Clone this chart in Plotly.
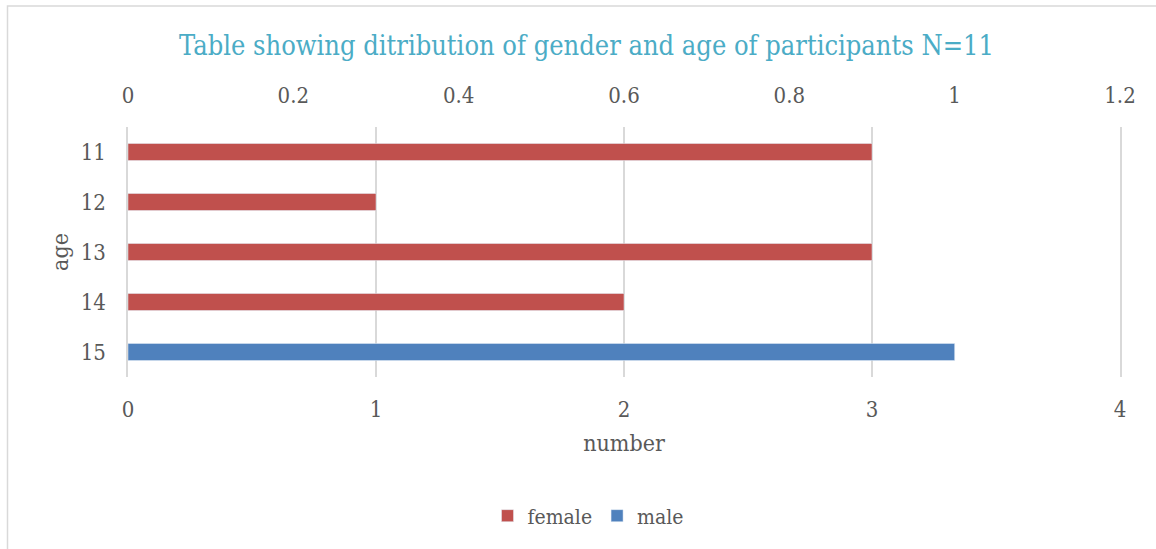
import plotly.graph_objects as go

ages = ["11", "12", "13", "14", "15"]
female = [3, 1, 3, 2, None]
male = [None, None, None, None, 1]
bottom_ticks = [0, 1, 2, 3, 4]
top_ticks = [0, 0.2, 0.4, 0.6, 0.8, 1, 1.2]
top_labels = ["0", "0.2", "0.4", "0.6", "0.8", "1", "1.2"]

FONT = "DejaVu Serif Condensed, Liberation Serif, serif"
GREY = "#595959"

W, H = 1156, 549
L, R, T, B = 128, 1120, 127, 377

fig = go.Figure()
fig.add_trace(go.Bar(y=ages, x=female, orientation="h", name="female",
                     marker_color="#c0504d", width=0.34, xaxis="x", yaxis="y"))
fig.add_trace(go.Bar(y=ages, x=male, orientation="h", name="male",
                     marker_color="#4f81bd", width=0.34, xaxis="x2", yaxis="y"))

fig.update_layout(
    width=W, height=H,
    margin=dict(l=L, r=W - R, t=T, b=H - B),
    paper_bgcolor="white", plot_bgcolor="white",
    barmode="overlay",
    font=dict(family=FONT, color=GREY, size=22),
    title=dict(text="Table showing ditribution of gender and age of participants N=11",
               font=dict(family=FONT, size=27, color="#4bacc6"),
               x=(178 + 995) / 2 / W, xanchor="center", xref="container",
               y=1 - 46 / H, yanchor="middle", yref="container"),
    xaxis=dict(range=[0, 4], tickvals=bottom_ticks, showgrid=True,
               gridcolor="#d9d9d9", gridwidth=1.5, zeroline=False,
               ticks="outside", ticklen=13, tickcolor="rgba(0,0,0,0)",
               tickfont=dict(size=22, color=GREY), showline=False,
               title=dict(text="number", font=dict(size=23, color=GREY), standoff=13)),
    xaxis2=dict(range=[0, 1.2], tickvals=top_ticks, ticktext=top_labels,
                overlaying="x", side="top", showgrid=False, zeroline=False,
                ticks="outside", ticklen=14, tickcolor="rgba(0,0,0,0)",
                tickfont=dict(size=22, color=GREY), showline=False),
    yaxis=dict(type="category", categoryorder="array", categoryarray=ages,
               autorange="reversed", showgrid=False, zeroline=False,
               ticks="outside", ticklen=16, tickcolor="rgba(0,0,0,0)",
               tickfont=dict(size=22, color=GREY),
               showline=True, mirror=True, linecolor="#d9d9d9", linewidth=1.5,
               title=dict(text="age", font=dict(size=23, color=GREY), standoff=6)),
    legend=dict(orientation="h", x=588 / W, xanchor="center", xref="container",
                y=1 - 516 / H, yanchor="middle", yref="container",
                font=dict(size=21, color=GREY), itemwidth=30, traceorder="normal"),
    shapes=[dict(type="rect", xref="paper", yref="paper",
                 x0=(7.5 - L) / (R - L), x1=(1165 - L) / (R - L),
                 y0=(B - 560) / (B - T), y1=(B - 6) / (B - T),
                 line=dict(color="#d9d9d9", width=1.5), fillcolor="rgba(0,0,0,0)",
                 layer="below")],
)

fig.write_html("out.html")
